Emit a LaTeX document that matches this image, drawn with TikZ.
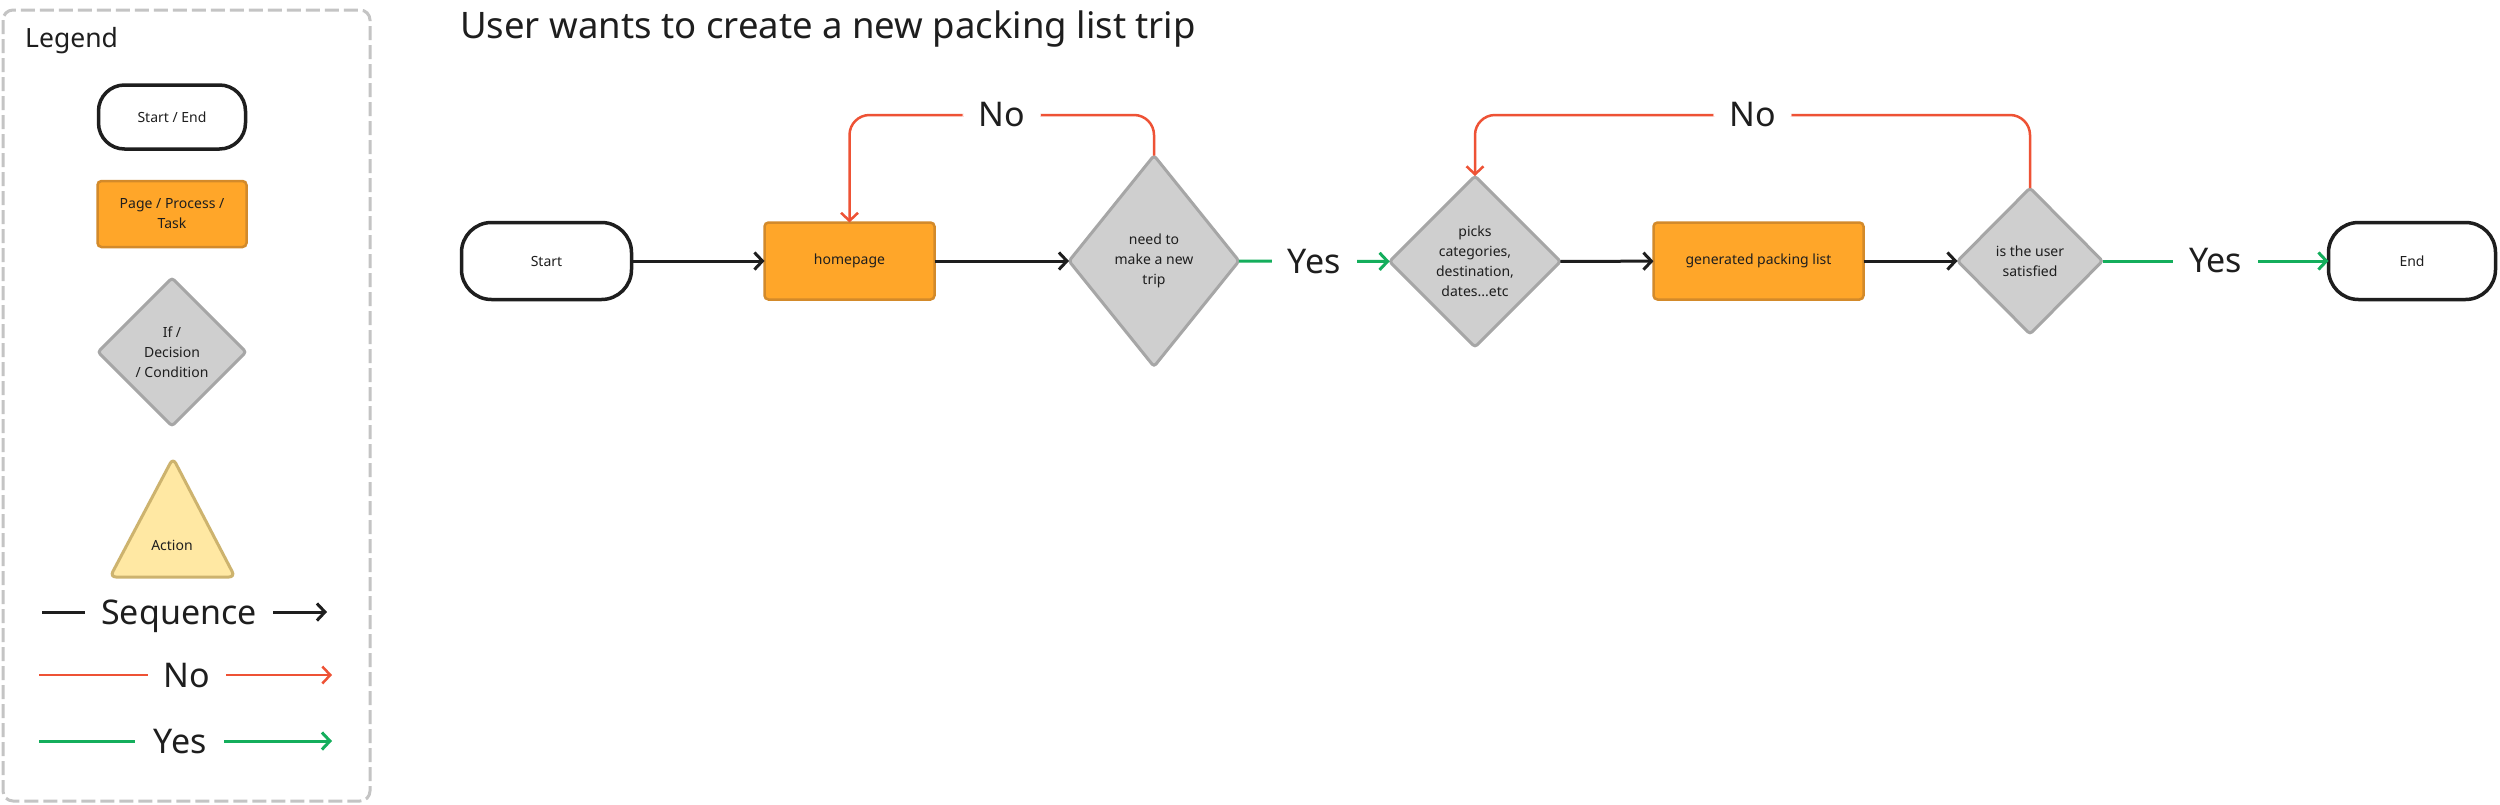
\documentclass[tikz,border=0pt]{standalone}
\usepackage{fontspec}
\setmainfont{Noto Sans}
\usetikzlibrary{shapes.geometric,arrows.meta}
\definecolor{txt}{HTML}{1E1E1E}
\definecolor{termb}{HTML}{1E1E1E}
\definecolor{orangef}{HTML}{FFA629}
\definecolor{orangeb}{HTML}{D38A2A}
\definecolor{grayf}{HTML}{CFCFCF}
\definecolor{grayb}{HTML}{A6A6A6}
\definecolor{yellowf}{HTML}{FFE8A3}
\definecolor{yellowb}{HTML}{CDB36E}
\definecolor{redl}{HTML}{EE5235}
\definecolor{greenl}{HTML}{14AE5C}
\definecolor{legb}{HTML}{C4C4C4}
\begin{document}
\begin{tikzpicture}[x=1pt,y=-1pt,
  term/.style={draw=termb, fill=white, line width=3.5pt, rounded corners=30pt,
    minimum width=170pt, minimum height=77pt, inner sep=0pt, outer sep=0pt,
    text=txt, font=\fontsize{14}{20}\selectfont, align=center},
  proc/.style={draw=orangeb, fill=orangef, line width=2.5pt, rounded corners=4pt,
    minimum width=170pt, minimum height=77pt, inner sep=0pt, outer sep=0pt,
    text=txt, font=\fontsize{14}{20}\selectfont, align=center},
  dec/.style={diamond, draw=grayb, fill=grayf, line width=3pt, rounded corners=3pt,
    inner sep=0pt, outer sep=0pt, text=txt, font=\fontsize{14}{20}\selectfont, align=center},
  seq/.style={draw=txt, line width=3pt, -{Straight Barb[length=8pt,width=17pt]}},
  yesl/.style={draw=greenl, line width=3pt, -{Straight Barb[length=8pt,width=17pt]}},
  nol/.style={draw=redl, line width=2.5pt, rounded corners=20pt, -{Straight Barb[length=8pt,width=17pt]}},
  lbl/.style={fill=white, inner xsep=16pt, inner ysep=3pt, text=txt, font=\fontsize{34}{40}\selectfont},
  legtxt/.style={text=txt, font=\fontsize{34}{40}\selectfont, anchor=base, inner sep=0pt},
]
\useasboundingbox (0,0) rectangle (2500,804);
\fill[white] (0,0) rectangle (2500,804);

% ---------------- Legend ----------------
\draw[legb, line width=3pt, dash pattern=on 14pt off 5pt, rounded corners=10pt] (3,10) rectangle (370,801);
\node[text=txt, font=\fontsize{26.5}{32}\selectfont, anchor=base west, inner sep=0pt] (legtitle) at (25,47) {Legend};

\node[term, minimum width=147pt, minimum height=64pt, rounded corners=26pt] (lse) at (172,117) {Start / End};
\node[proc, minimum width=149pt, minimum height=66pt] (lproc) at (172,214) {Page / Process /\\Task};
\node[dec, minimum width=148pt, minimum height=148pt] (ldec) at (172,352) {If /\\Decision\\/ Condition};
\draw[fill=yellowf, draw=yellowb, line width=3pt, rounded corners=6pt] (173,458) -- (235,577) -- (110,577) -- cycle;
\node[text=txt, font=\fontsize{14}{20}\selectfont, inner sep=0pt] (lact) at (172,545) {Action};

\coordinate (sq1) at (42,612); \coordinate (sq2) at (85,612);
\coordinate (sq3) at (273,612); \coordinate (sq4) at (327,612);
\draw[draw=txt, line width=3pt] (sq1) -- (sq2);
\draw[seq] (sq3) -- (sq4);
\node[legtxt] (lseq) at (179,624) {Sequence};

\coordinate (no1) at (39,675); \coordinate (no2) at (148,675);
\coordinate (no3) at (226,675); \coordinate (no4) at (332,675);
\draw[draw=redl, line width=2.5pt] (no1) -- (no2);
\draw[nol] (no3) -- (no4);
\node[legtxt] (lno) at (187,687) {No};

\coordinate (ye1) at (39,741); \coordinate (ye2) at (135,741);
\coordinate (ye3) at (224,741); \coordinate (ye4) at (332,741);
\draw[draw=greenl, line width=3pt] (ye1) -- (ye2);
\draw[yesl] (ye3) -- (ye4);
\node[legtxt] (lyes) at (180,753) {Yes};

% ---------------- Title ----------------
\node[text=txt, font=\fontsize{36.5}{44}\selectfont, anchor=base west, inner sep=0pt] (title) at (460,38) {User wants to create a new packing list trip};

% ---------------- Flow ----------------
\node[term] (start) at (546.5,261) {Start};
\node[proc] (home) at (849.5,261) {homepage};
\node[dec, minimum width=170pt, minimum height=211pt] (d1) at (1154,261) {need to\\make a new\\trip};
\node[dec, minimum width=171pt, minimum height=171pt] (d2) at (1475,261.5) {picks\\categories,\\destination,\\dates...etc};
\node[proc, minimum width=210pt] (gen) at (1758.5,261) {generated packing list};
\node[dec, minimum width=145pt, minimum height=146pt] (d3) at (2030,261) {is the user\\satisfied};
\node[term, minimum width=167pt] (end) at (2412,261) {End};

\draw[seq] (start) -- (home);
\draw[seq] (home) -- (d1);
\draw[yesl] (d1) -- node[lbl] {Yes} (d2);
\draw[seq] (d2) -- (gen);
\draw[seq] (gen) -- (d3);
\draw[yesl] (d3) -- node[lbl] {Yes} (end);

\draw[nol] (d1.north) -- (d1.north |- 0,115) -- node[lbl] {No} (home.north |- 0,115) -- (home.north);
\draw[nol] (d3.north) -- (d3.north |- 0,115) -- node[lbl] {No} (d2.north |- 0,115) -- (d2.north);
\end{tikzpicture}
\end{document}
